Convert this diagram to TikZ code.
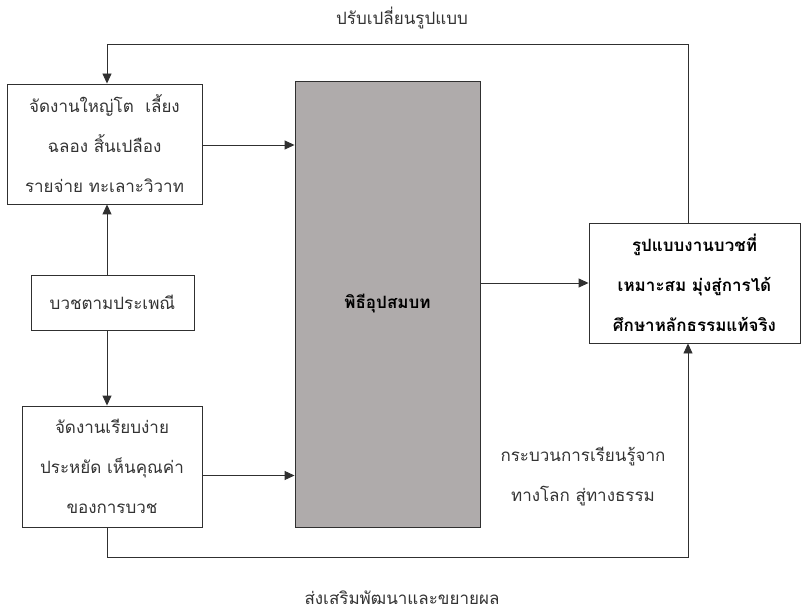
\documentclass[tikz,border=0pt]{standalone}
\usepackage{fontspec}
\setmainfont[Script=Thai]{Loma}
\usetikzlibrary{arrows.meta}
\definecolor{gbox}{HTML}{AFABAB}
\definecolor{lc}{HTML}{303030}
\begin{document}
\begin{tikzpicture}[x=1pt,y=-1pt,
  box/.style={draw=lc,line width=0.9pt,rectangle,inner sep=0pt,align=center,font=\fontsize{17}{40}\selectfont,text=black!80},
  lbl/.style={align=center,font=\fontsize{17}{40}\selectfont,text=black!80},
  conn/.style={draw=lc,line width=0.9pt},
  arr/.style={conn,-{Triangle[length=10pt,width=9pt]}}]
\useasboundingbox (0,0) rectangle (805,612);
\node[lbl] (tl) at (402,18) {ปรับเปลี่ยนรูปแบบ};
\node[lbl] (bl) at (402,598) {ส่งเสริมพัฒนาและขยายผล};
\node[box,minimum width=195,minimum height=120] (A) at (104.5,144) {จัดงานใหญ่โต\ \ เลี้ยง\\ฉลอง สิ้นเปลือง\\รายจ่าย ทะเลาะวิวาท};
\node[box,minimum width=163,minimum height=55] (B) at (112.5,302.5) {บวชตามประเพณี};
\node[box,minimum width=180,minimum height=121] (C) at (112,466.5) {จัดงานเรียบง่าย\\ประหยัด เห็นคุณค่า\\ของการบวช};
\node[box,fill=gbox,minimum width=185,minimum height=446,font=\fontsize{17}{40}\selectfont\bfseries,text=black] (G) at (387.5,304) {พิธีอุปสมบท};
\node[box,minimum width=211,minimum height=120,font=\fontsize{17}{40}\selectfont\bfseries,text=black] (R) at (694.5,283) {รูปแบบงานบวชที่\\เหมาะสม มุ่งสู่การได้\\ศึกษาหลักธรรมแท้จริง};
\node[lbl] (T) at (583,477) {กระบวนการเรียนรู้จาก\\ทางโลก สู่ทางธรรม};
\coordinate (vx) at (107,0);
\coordinate (rx) at (688,0);
\coordinate (top) at (0,44);
\coordinate (bot) at (0,557);
\draw[arr] ([yshift=-1]A.east) -- ([yshift=-1]A.east -| G.west);
\draw[arr] ([yshift=-9]C.east) -- ([yshift=-9]C.east -| G.west);
\draw[arr] (R.west -| G.east) -- (R.west);
\draw[arr] (B.north -| vx) -- (A.south -| vx);
\draw[arr] (B.south -| vx) -- (C.north -| vx);
\draw[arr] (R.north -| rx) |- (top -| vx) -- (A.north -| vx);
\draw[arr] (C.south -| vx) |- (bot -| rx) -- (R.south -| rx);
\end{tikzpicture}
\end{document}
